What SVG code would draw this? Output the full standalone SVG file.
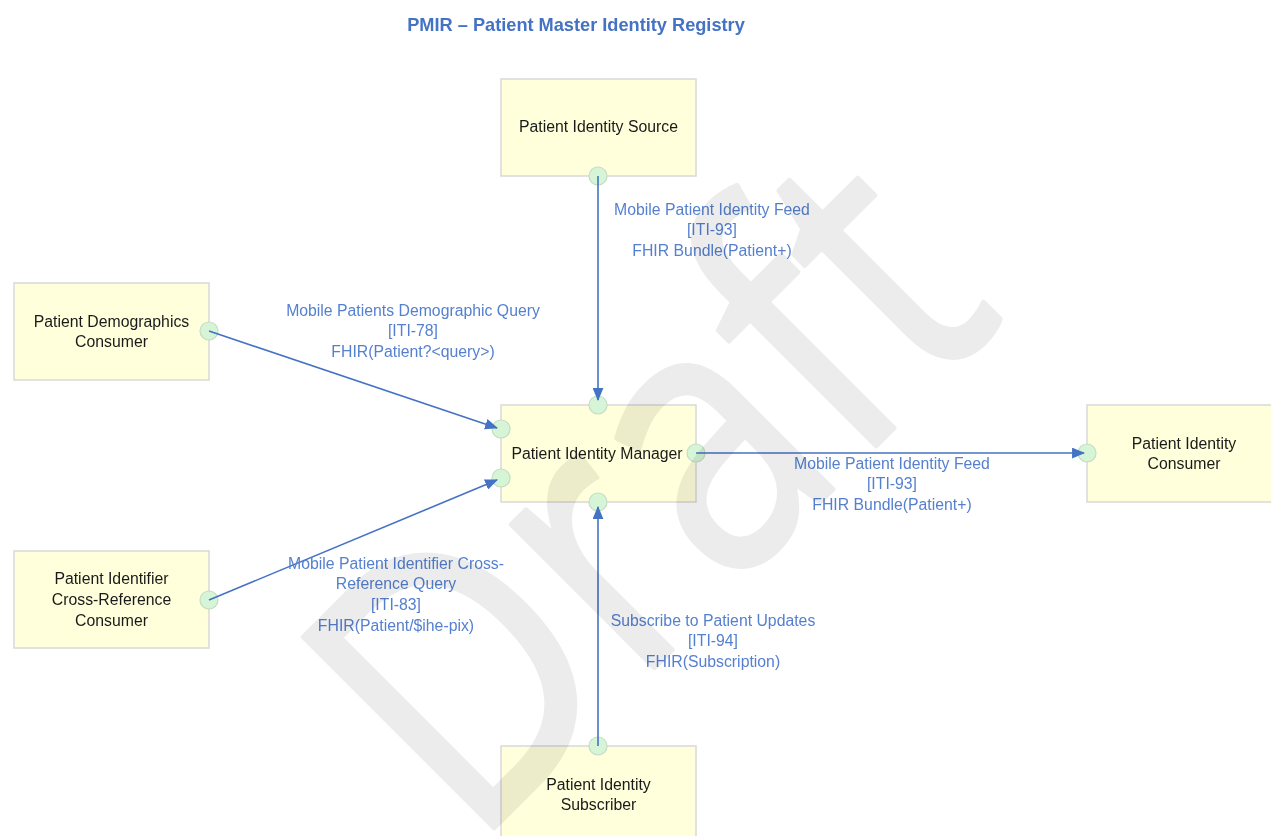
<svg xmlns="http://www.w3.org/2000/svg" width="1271" height="836" viewBox="0 0 1271 836">
<style>
.node rect{fill:#ffffdb;stroke:#d9d9d9;stroke-width:1.5}
.port{fill:#d6f5d6;stroke:#c4dcc4;stroke-width:1.2}
.nt{font-family:"Liberation Sans",Arial,sans-serif;font-size:15.8px;fill:#1a1a1a;text-anchor:middle}
.lbl{font-family:"Liberation Sans",Arial,sans-serif;font-size:15.8px;fill:#5580d0;text-anchor:middle}
.conn line{stroke:#4472c4;stroke-width:1.6;fill:none}
</style>
<defs>
<marker id="arrL" viewBox="0 0 12 10" refX="11" refY="5" markerWidth="13" markerHeight="11" markerUnits="userSpaceOnUse" orient="auto">
<path d="M0,0 L12,5 L0,10 z" fill="#4472c4"/>
</marker>
</defs>
<rect width="1271" height="836" fill="#fff"/>
<text x="576" y="31" style="font-family:'Liberation Sans',Arial,sans-serif;font-size:18.2px;font-weight:bold;fill:#4472c4;text-anchor:middle">PMIR – Patient Master Identity Registry</text>

<g id="n-source" class="node"><rect x="501" y="79" width="195" height="97"/><text class="nt" x="598.5" y="132">Patient Identity Source</text></g>
<g id="n-demo" class="node"><rect x="14" y="283" width="195" height="97"/><text class="nt" x="111.5" y="327">Patient Demographics</text><text class="nt" x="111.5" y="347">Consumer</text></g>
<g id="n-manager" class="node"><rect x="501" y="405" width="195" height="97"/><text class="nt" x="597" y="459">Patient Identity Manager</text></g>
<g id="n-consumer" class="node"><rect x="1087" y="405" width="195" height="97"/><text class="nt" x="1184" y="449">Patient Identity</text><text class="nt" x="1184" y="469">Consumer</text></g>
<g id="n-pix" class="node"><rect x="14" y="551" width="195" height="97"/><text class="nt" x="111.5" y="584">Patient Identifier</text><text class="nt" x="111.5" y="605">Cross-Reference</text><text class="nt" x="111.5" y="626">Consumer</text></g>
<g id="n-subscriber" class="node"><rect x="501" y="746" width="195" height="97"/><text class="nt" x="598.5" y="790">Patient Identity</text><text class="nt" x="598.5" y="810">Subscriber</text></g>

<g id="ports">
<circle class="port" cx="598" cy="176" r="9"/>
<circle class="port" cx="209" cy="331" r="9"/>
<circle class="port" cx="598" cy="405" r="9"/>
<circle class="port" cx="501" cy="429" r="9"/>
<circle class="port" cx="501" cy="478" r="9"/>
<circle class="port" cx="696" cy="453" r="9"/>
<circle class="port" cx="598" cy="502" r="9"/>
<circle class="port" cx="1087" cy="453" r="9"/>
<circle class="port" cx="209" cy="600" r="9"/>
<circle class="port" cx="598" cy="746" r="9"/>
</g>

<g id="connectors" class="conn">
<line x1="598" y1="176" x2="598" y2="400" marker-end="url(#arrL)"/>
<line x1="209" y1="331" x2="497" y2="428" marker-end="url(#arrL)"/>
<line x1="209" y1="600" x2="497" y2="480" marker-end="url(#arrL)"/>
<line x1="696" y1="453" x2="1084" y2="453" marker-end="url(#arrL)"/>
<line x1="598" y1="746" x2="598" y2="507" marker-end="url(#arrL)"/>
</g>

<g id="labels">
<text class="lbl" x="712" y="215">Mobile Patient Identity Feed</text>
<text class="lbl" x="712" y="235">[ITI-93]</text>
<text class="lbl" x="712" y="256">FHIR Bundle(Patient+)</text>
<text class="lbl" x="413" y="316">Mobile Patients Demographic Query</text>
<text class="lbl" x="413" y="336">[ITI-78]</text>
<text class="lbl" x="413" y="357">FHIR(Patient?&lt;query&gt;)</text>
<text class="lbl" x="892" y="469">Mobile Patient Identity Feed</text>
<text class="lbl" x="892" y="489">[ITI-93]</text>
<text class="lbl" x="892" y="510">FHIR Bundle(Patient+)</text>
<text class="lbl" x="396" y="569">Mobile Patient Identifier Cross-</text>
<text class="lbl" x="396" y="589">Reference Query</text>
<text class="lbl" x="396" y="610">[ITI-83]</text>
<text class="lbl" x="396" y="631">FHIR(Patient/$ihe-pix)</text>
<text class="lbl" x="713" y="626">Subscribe to Patient Updates</text>
<text class="lbl" x="713" y="646">[ITI-94]</text>
<text class="lbl" x="713" y="667">FHIR(Subscription)</text>
</g>

<text x="0" y="0" transform="translate(472,850) rotate(-45) scale(0.84,1)" style="font-family:'Open Sans','Liberation Sans',sans-serif;font-size:378px;fill:#ececec;stroke:#ececec;stroke-width:5;stroke-linejoin:round;mix-blend-mode:multiply">Draft</text>
</svg>
